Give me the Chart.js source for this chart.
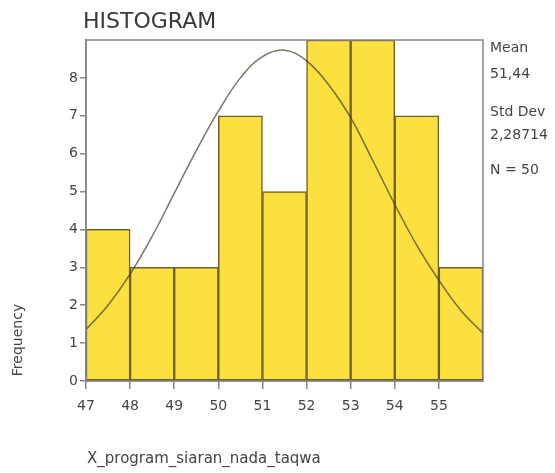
<!DOCTYPE html>
<html>
<head>
<meta charset="utf-8">
<title>HISTOGRAM</title>
<script src="https://cdn.jsdelivr.net/npm/chart.js@4.4.1/dist/chart.umd.min.js"></script>
<style>
  html, body { margin: 0; padding: 0; background: #ffffff; }
  canvas { display: block; }
</style>
</head>
<body>
<canvas id="hist" width="555" height="473"></canvas>
<script>
// Histogram bins (centre of each 1-unit bin) and frequencies
const binCenters = [47.5, 48.5, 49.5, 50.5, 51.5, 52.5, 53.5, 54.5, 55.5];
const frequencies = [4, 3, 3, 7, 5, 9, 9, 7, 3];

// Fitted normal curve, sampled every half unit
const curveX = [47, 47.5, 48, 48.5, 49, 49.5, 50, 50.5, 51, 51.5, 52, 52.5, 53, 53.5, 54, 54.5, 55, 55.5, 56];
const curveY = [1.36, 2.0, 2.82, 3.82, 4.95, 6.08, 7.12, 8.0, 8.56, 8.73, 8.45, 7.82, 6.95, 5.82, 4.66, 3.58, 2.66, 1.86, 1.26];

// Axis ticks
const xTicks = [47, 48, 49, 50, 51, 52, 53, 54, 55];
const yTicks = [0, 1, 2, 3, 4, 5, 6, 7, 8];

// Summary statistics shown beside the plot
const statLines = ['Mean', '51,44', 'Std Dev', '2,28714', 'N = 50'];

const FONT = 'DejaVu Sans, Verdana, sans-serif';
const TEXT = '#444444';
const FRAME = '#858585';

const textPlugin = {
  id: 'histText',
  afterDraw(chart) {
    const ctx = chart.ctx;
    const a = chart.chartArea;
    ctx.save();
    // plot frame
    ctx.strokeStyle = FRAME;
    ctx.lineWidth = 1.5;
    ctx.strokeRect(a.left, a.top, a.right - a.left, a.bottom - a.top);

    // title
    ctx.fillStyle = '#383838';
    ctx.textBaseline = 'alphabetic';
    ctx.textAlign = 'left';
    ctx.font = '22px ' + FONT;
    ctx.fillText('HISTOGRAM', a.left - 3, 28);

    // statistics column
    ctx.fillStyle = TEXT;
    ctx.font = '14px ' + FONT;
    const baselines = [52, 78, 116, 139, 174];
    statLines.forEach((s, i) => ctx.fillText(s, a.right + 7, baselines[i]));

    // axis titles
    ctx.font = '15px ' + FONT;
    ctx.fillText('X_program_siaran_nada_taqwa', a.left + 1, 463);
    ctx.translate(18, 340);
    ctx.rotate(-Math.PI / 2);
    ctx.textAlign = 'center';
    ctx.textBaseline = 'middle';
    ctx.font = '14px ' + FONT;
    ctx.fillText('Frequency', 0, 0);
    ctx.restore();
  }
};

new Chart(document.getElementById('hist'), {
  data: {
    datasets: [
      {
        type: 'line',
        order: 0,
        data: curveX.map((x, i) => ({ x: x, y: curveY[i] })),
        borderColor: 'rgba(70, 62, 40, 0.72)',
        borderWidth: 1.5,
        pointRadius: 0,
        fill: false,
        tension: 0.4
      },
      {
        type: 'bar',
        order: 1,
        data: binCenters.map((x, i) => ({ x: x, y: frequencies[i] })),
        backgroundColor: '#FBE03F',
        borderColor: '#6E6128',
        borderWidth: 1.5,
        borderSkipped: false,
        barPercentage: 1,
        categoryPercentage: 1
      }
    ]
  },
  options: {
    responsive: false,
    animation: false,
    events: [],
    layout: { padding: { left: 0, top: 40, right: 72, bottom: 0 } },
    plugins: {
      legend: { display: false },
      title: { display: false },
      tooltip: { enabled: false }
    },
    scales: {
      x: {
        type: 'linear',
        min: 47,
        max: 56,
        offset: false,
        afterBuildTicks(scale) { scale.ticks = xTicks.map(v => ({ value: v })); },
        afterFit(scale) { scale.height = 92; },
        ticks: {
          color: TEXT,
          font: { family: FONT, size: 14 },
          padding: 9,
          maxRotation: 0,
          autoSkip: false
        },
        grid: { offset: false, drawOnChartArea: false, drawTicks: true, tickLength: 8, color: FRAME, lineWidth: 1.5 },
        border: { display: true, color: '#6f6f6f', width: 1.5 }
      },
      y: {
        type: 'linear',
        min: 0,
        max: 9,
        afterBuildTicks(scale) { scale.ticks = yTicks.map(v => ({ value: v })); },
        afterFit(scale) { scale.width = 86; },
        ticks: {
          color: TEXT,
          font: { family: FONT, size: 14 },
          padding: 2,
          autoSkip: false
        },
        grid: { drawOnChartArea: false, drawTicks: true, tickLength: 6, color: FRAME, lineWidth: 1.5 },
        border: { display: true, color: FRAME, width: 1.5 }
      }
    }
  },
  plugins: [textPlugin]
});
</script>
</body>
</html>
